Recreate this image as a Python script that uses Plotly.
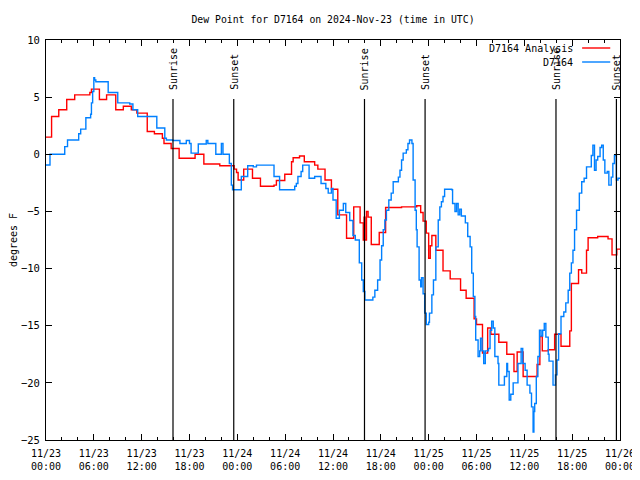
import datetime as dt
import plotly.graph_objects as go

# ---- data (hours since 2024-11-23 00:00 UTC, dew point in F) ----
analysis_hours = [0, 0.7, 1.6, 2.6, 3.6, 5.5, 5.7, 6.7, 7.6, 8.75, 9.7, 10.7, 11.4, 12.7, 13.6, 14.6, 14.8,
                  15.7, 16.7, 18.7, 19.8, 21.8, 23.6, 23.9, 24.1, 24.8, 25.9, 26.9, 28.6, 28.9, 29.95, 30.8,
                  31.0, 31.8, 32.4, 33.7, 34.1, 35.0, 35.8, 36.6, 37.7, 38.6, 39.4, 39.8, 39.9, 40.0, 40.2,
                  40.4, 40.8, 41.8, 42.6, 44.6, 46.5, 47.0, 47.3, 47.7, 48.0, 48.2, 48.4, 48.9, 49.8, 50.7,
                  52.0, 52.7, 53.7, 54.0, 54.75, 55.4, 55.8, 56.8, 57.8, 58.7, 59.1, 59.85, 61.6, 61.95,
                  62.25, 63.0, 63.8, 64.6, 65.7, 65.9, 66.8, 67.2, 67.8, 68.0, 69.2, 70.5, 71.0, 71.6, 72]
analysis_vals = [1.5, 3.3, 3.9, 4.8, 5.2, 5.4, 5.7, 4.8, 5.2, 3.9, 4.2, 3.9, 3.6, 2.0, 1.8, 1.4, 0.95,
                 0.5, -0.35, 0.0, -0.85, -1.0, -1.3, -1.6, -2.25, -1.3, -2.1, -2.8, -2.7, -2.3, -1.75, -0.65,
                 -0.3, -0.15, -0.65, -0.95, -1.3, -2.25, -3.06, -5.3, -7.35, -4.6, -6.0, -7.5, -5.5, -7.5, -5.0,
                 -5.5, -7.9, -6.85, -4.65, -4.6, -4.5, -5.1, -5.85, -6.9, -9.1, -8.0, -7.1, -8.4, -10.2, -10.9,
                 -11.9, -12.6, -14.4, -14.9, -17.4, -15.2, -15.75, -16.45, -17.5, -19.0, -17.3, -19.45, -18.4, -15.95,
                 -17.2, -17.1, -15.75, -16.8, -15.45, -11.3, -10.1, -10.4, -8.4, -7.3, -7.2, -7.4, -8.8, -8.3, -8.3]

station_hours = [0, 0.5, 2.35, 2.7, 4.1, 4.35, 5.0, 5.6, 5.7, 5.85, 6.0, 6.1, 6.25, 7.8, 9.0, 10.5, 10.9,
                 11.5, 13.9, 14.9, 15.1, 15.9, 16.8, 17.6, 18.0, 18.2, 19.1, 20.1, 20.3, 21.3, 22.0, 22.2,
                 23.0, 23.25, 23.4, 24.5, 25.3, 26.0, 26.4, 28.6, 29.3, 31.2, 31.4, 31.6, 32.0, 32.2, 33.0,
                 33.7, 34.5, 35.1, 35.4, 35.8, 36.0, 36.4, 36.8, 37.3, 37.6, 38.1, 38.5, 38.8, 39.3, 39.6,
                 39.8, 40.0, 41.0, 41.25, 41.6, 41.9, 42.1, 42.3, 42.5, 42.7, 43.0, 43.3, 43.55, 44.2, 44.4,
                 44.6, 44.8, 45.2, 45.4, 45.6, 45.9, 46.05, 46.3, 46.45, 46.55, 46.8, 47.0, 47.1, 47.3, 47.5,
                 47.7, 48.0, 48.1, 48.4, 48.6, 48.9, 49.2, 49.4, 49.6, 49.8, 50.0, 50.9, 51.0, 51.3, 51.5,
                 51.7, 51.9, 52.1, 52.6, 52.9, 53.2, 53.4, 53.6, 53.8, 53.9, 54.2, 54.4, 54.5, 54.7, 54.9,
                 55.1, 55.5, 55.7, 55.9, 56.1, 56.3, 56.7, 56.8, 57.5, 57.8, 57.9, 58.1, 58.3, 58.6, 59.2,
                 59.6, 59.8, 60.1, 60.35, 60.7, 60.9, 61.1, 61.2, 61.3, 61.5, 61.7, 61.9, 62.1, 62.3, 62.5,
                 62.7, 63.0, 63.1, 63.6, 63.9, 64.1, 64.3, 64.6, 64.95, 65.2, 65.5, 65.7, 65.9, 66.1, 66.3,
                 66.55, 66.9, 67.2, 67.5, 67.8, 68.4, 68.6, 68.8, 69.0, 69.2, 69.5, 69.7, 69.9, 70.1, 70.4,
                 70.6, 70.9, 71.1, 71.3, 71.55, 71.75, 72]
station_vals = [-0.94, 0.0, 0.67, 1.25, 1.8, 2.2, 3.2, 3.5, 4.5, 5.5, 6.7, 6.5, 6.35, 5.4, 4.5, 4.4, 3.9,
                3.3, 2.3, 1.4, 1.25, 1.2, 0.95, 1.2, 0.95, 0.1, 0.9, 1.2, 0.95, 0.0, 0.95, 0.0,
                -0.8, -2.7, -3.1, -1.95, -1.0, -1.1, -0.95, -1.95, -3.1, -2.8, -2.55, -1.95, -1.5, -0.95, -2.1,
                -1.95, -2.55, -3.0, -3.4, -3.0, -4.0, -5.6, -4.9, -4.3, -5.1, -5.8, -7.1, -7.5, -9.5, -11.0,
                -12.0, -12.75, -12.5, -11.9, -11.0, -9.25, -8.0, -6.6, -5.75, -4.9, -4.0, -3.4, -2.4, -2.0, -1.4,
                -0.5, 0.1, 0.4, 0.95, 1.25, 0.95, -2.25, -4.9, -6.6, -8.1, -11.0, -11.6, -10.8, -12.2, -13.9,
                -14.9, -14.7, -13.9, -12.3, -11.0, -8.1, -5.75, -4.6, -4.15, -3.7, -3.06, -3.1, -4.3, -5.0, -4.3,
                -5.3, -4.8, -5.4, -6.0, -7.2, -8.1, -10.4, -12.45, -14.2, -16.25, -17.7, -17.2, -16.1, -17.2, -18.3,
                -17.2, -17.0, -15.4, -14.6, -15.2, -17.7, -18.3, -20.2, -19.45, -18.3, -19.0, -21.5, -21.0, -20.0, -18.3,
                -17.0, -18.3, -18.9, -20.2, -20.9, -22.1, -24.3, -22.5, -21.8, -19.45, -17.7, -15.4, -15.9, -15.4, -14.8,
                -16.0, -17.5, -18.1, -20.2, -19.3, -18.0, -15.7, -14.2, -13.8, -13.0, -11.9, -10.4, -9.5, -8.4, -6.6,
                -4.9, -3.4, -2.4, -2.1, -1.1, -0.1, 0.8, -1.4, -0.5, -0.2, 0.6, 0.8, -0.5, -1.65, -1.5,
                -2.7, -2.0, -0.8, -0.1, -2.25, -2.1, -2.1]

sun_hours = [15.93, 23.55, 39.95, 47.55, 63.97, 71.55]
sun_labels = ["Sunrise", "Sunset", "Sunrise", "Sunset", "Sunrise", "Sunset"]

series_names = ["D7164 Analysis", "D7164"]
series_colors = ["#ff0000", "#0080ff"]

base = dt.datetime(2024, 11, 23)
def to_time(h):
    return base + dt.timedelta(hours=h)

FONT = "DejaVu Sans Mono"

fig = go.Figure()
fig.add_trace(go.Scatter(x=[to_time(h) for h in analysis_hours], y=analysis_vals, mode="lines",
                         line=dict(color=series_colors[0], width=1.4, shape="hv"),
                         name=series_names[0], showlegend=False))
fig.add_trace(go.Scatter(x=[to_time(h) for h in station_hours], y=station_vals, mode="lines",
                         line=dict(color=series_colors[1], width=1.4, shape="hv"),
                         name=series_names[1], showlegend=False))

shapes = []
annotations = []
line_top = 0.8525
for h, lab in zip(sun_hours, sun_labels):
    shapes.append(dict(type="line", xref="x", yref="paper", x0=to_time(h), x1=to_time(h),
                       y0=0, y1=line_top, line=dict(color="black", width=1.2)))
    annotations.append(dict(x=to_time(h), y=0.87, xref="x", yref="paper", text=lab, textangle=-90,
                            showarrow=False, xanchor="center", yanchor="bottom",
                            font=dict(family=FONT, size=10, color="black")))

# key (gnuplot style: text on the left, sample on the right)
key_y = [0.98, 0.945]
for name, col, ky in zip(series_names, series_colors, key_y):
    annotations.append(dict(x=0.9216, y=ky, xref="paper", yref="paper", text=name, showarrow=False,
                            xanchor="right", yanchor="middle",
                            font=dict(family=FONT, size=10, color="black")))
    shapes.append(dict(type="line", xref="paper", yref="paper", x0=0.934, x1=0.983, y0=ky, y1=ky,
                       line=dict(color=col, width=1.4)))

# The page body adds an 8px offset; margins compensate so the plot box lands at 46..620 x 40..440.
fig.update_layout(
    width=640, height=480,
    margin=dict(l=38, r=28, t=32, b=48),
    paper_bgcolor="white", plot_bgcolor="white",
    font=dict(family=FONT, size=10, color="black"),
    title=dict(text="Dew Point for D7164 on 2024-Nov-23 (time in UTC)", x=0.5, xref="paper",
               y=0.975, yref="container", yanchor="middle",
               font=dict(family=FONT, size=9.8, color="black")),
    shapes=shapes, annotations=annotations,
)
fig.update_xaxes(
    type="date", range=[to_time(0), to_time(72)], automargin=False,
    dtick=6 * 3600 * 1000, tick0=to_time(0), tickformat="%m/%d<br>%H:%M",
    ticks="inside", ticklen=6, tickcolor="black", showline=True, linecolor="black", linewidth=1,
    mirror="ticks", showgrid=False, zeroline=False, ticklabelstandoff=4,
    minor=dict(dtick=2 * 3600 * 1000, ticks="inside", ticklen=3, tickcolor="black", showgrid=False),
    tickfont=dict(family=FONT, size=10),
)
fig.update_yaxes(
    range=[-25, 10], dtick=5, ticks="inside", ticklen=6, tickcolor="black", automargin=False,
    showline=True, linecolor="black", linewidth=1, mirror="ticks", showgrid=False, zeroline=False,
    ticklabelstandoff=3,
    title=dict(text="degrees F", font=dict(family=FONT, size=10), standoff=4),
    tickfont=dict(family=FONT, size=10.5),
)

fig.write_html("out.html")
